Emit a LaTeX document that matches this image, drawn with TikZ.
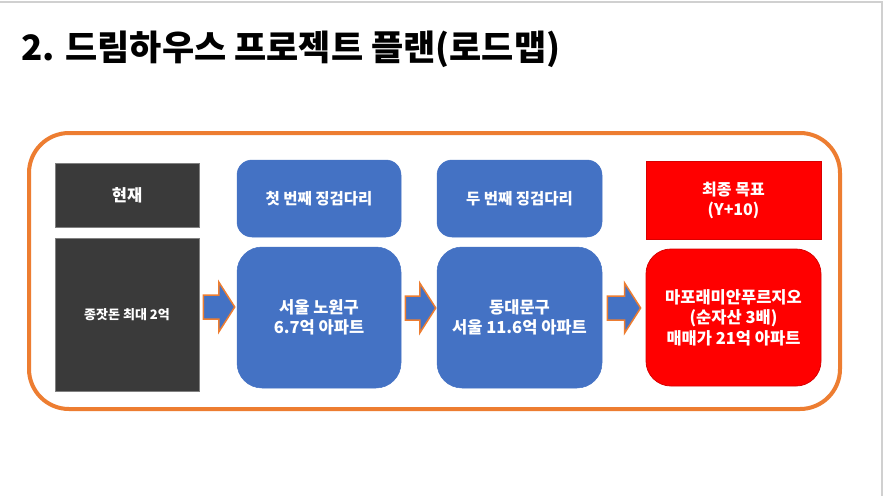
\documentclass[tikz,border=0pt]{standalone}
\usepackage{fontspec}
\setmainfont{Noto Sans CJK KR}
\newfontfamily\titlefont{Noto Sans CJK KR Black}
\usetikzlibrary{calc}
\definecolor{obl}{HTML}{4472C4}
\definecolor{oor}{HTML}{ED7D31}
\definecolor{dkbox}{HTML}{3A3A3A}
\definecolor{dkedge}{HTML}{808080}
\definecolor{rd}{HTML}{FF0000}
\definecolor{pagegray}{HTML}{D0D0D0}
\newcommand\myblockarrow[2]{%
  \draw[blockarrow] ($(#1)+(0,-12)$) -- ($(#2)+(-16,-12)$) -- ($(#2)+(-16,-25)$) -- (#2)
    -- ($(#2)+(-16,25)$) -- ($(#2)+(-16,12)$) -- ($(#1)+(0,12)$) -- cycle;}
\tikzset{
  boxtext/.style={text=white, align=center, inner sep=0pt, font=\bfseries\fontsize{16.5}{20.5}\selectfont},
  darkbox/.style={boxtext, fill=dkbox, draw=dkedge, line width=0.8pt},
  bluebox/.style={boxtext, fill=obl, draw=obl, line width=0.5pt},
  redbox/.style={boxtext, fill=rd, draw=rd!85!black, line width=0.8pt},
  blockarrow/.style={fill=obl, draw=oor, line width=1.5pt, line join=miter},
}
\begin{document}
\begin{tikzpicture}[x=1pt,y=-1pt]
\useasboundingbox (0,0) rectangle (884,496);
\fill[white] (0,0) rectangle (884,496);
\draw[pagegray, line width=1.5pt] (0,2) -- (882,2) -- (882,496);
\node[anchor=base west, inner sep=0pt, font=\titlefont\fontsize{35}{40}\selectfont] (title) at (21,60) {2. 드림하우스 프로젝트 플랜(로드맵)};
\node[draw=oor, line width=4pt, rounded corners=40pt, minimum width=811pt, minimum height=276pt] (frame) at (434.5,271) {};
% column 1
\node[darkbox, minimum width=144pt, minimum height=64pt, font=\bfseries\fontsize{16.5}{20}\selectfont] (now) at (127,195) {현재};
\node[darkbox, minimum width=144pt, minimum height=153pt, font=\bfseries\fontsize{13}{16}\selectfont] (seed) at (127,314.5) {종잣돈 최대 2억};
% column 2
\node[bluebox, rounded corners=15pt, minimum width=164pt, minimum height=77pt, font=\bfseries\fontsize{15.5}{19}\selectfont] (step1) at (319,198.5) {첫 번째 징검다리};
\node[bluebox, rounded corners=25pt, minimum width=164pt, minimum height=141pt] (nowon) at (319,317.5) {서울 노원구\\6.7억 아파트};
% column 3
\node[bluebox, rounded corners=15pt, minimum width=165pt, minimum height=77pt, font=\bfseries\fontsize{15.5}{19}\selectfont] (step2) at (519.5,198.5) {두 번째 징검다리};
\node[bluebox, rounded corners=25pt, minimum width=165pt, minimum height=141pt] (ddm) at (519.5,317.5) {동대문구\\서울 11.6억 아파트};
% column 4
\node[redbox, minimum width=175pt, minimum height=78pt, font=\bfseries\fontsize{16}{20}\selectfont] (goal) at (733.5,200) {최종 목표\\(Y+10)};
\node[redbox, rounded corners=25pt, minimum width=175pt, minimum height=137pt] (mapo) at (733.5,317.5) {마포래미안푸르지오\\(순자산 3배)\\매매가 21억 아파트};
% arrows
\coordinate (a1s) at ($(seed.east |- 0,307)+(4,0)$);
\coordinate (a1e) at ($(nowon.west |- 0,307)+(-2,0)$);
\coordinate (a2s) at ($(nowon.east |- 0,308)+(4,0)$);
\coordinate (a2e) at ($(ddm.west |- 0,308)+(-1,0)$);
\coordinate (a3s) at ($(ddm.east |- 0,308)+(5,0)$);
\coordinate (a3e) at ($(mapo.west |- 0,308)+(-5,0)$);
\myblockarrow{a1s}{a1e}
\myblockarrow{a2s}{a2e}
\myblockarrow{a3s}{a3e}
\end{tikzpicture}
\end{document}
